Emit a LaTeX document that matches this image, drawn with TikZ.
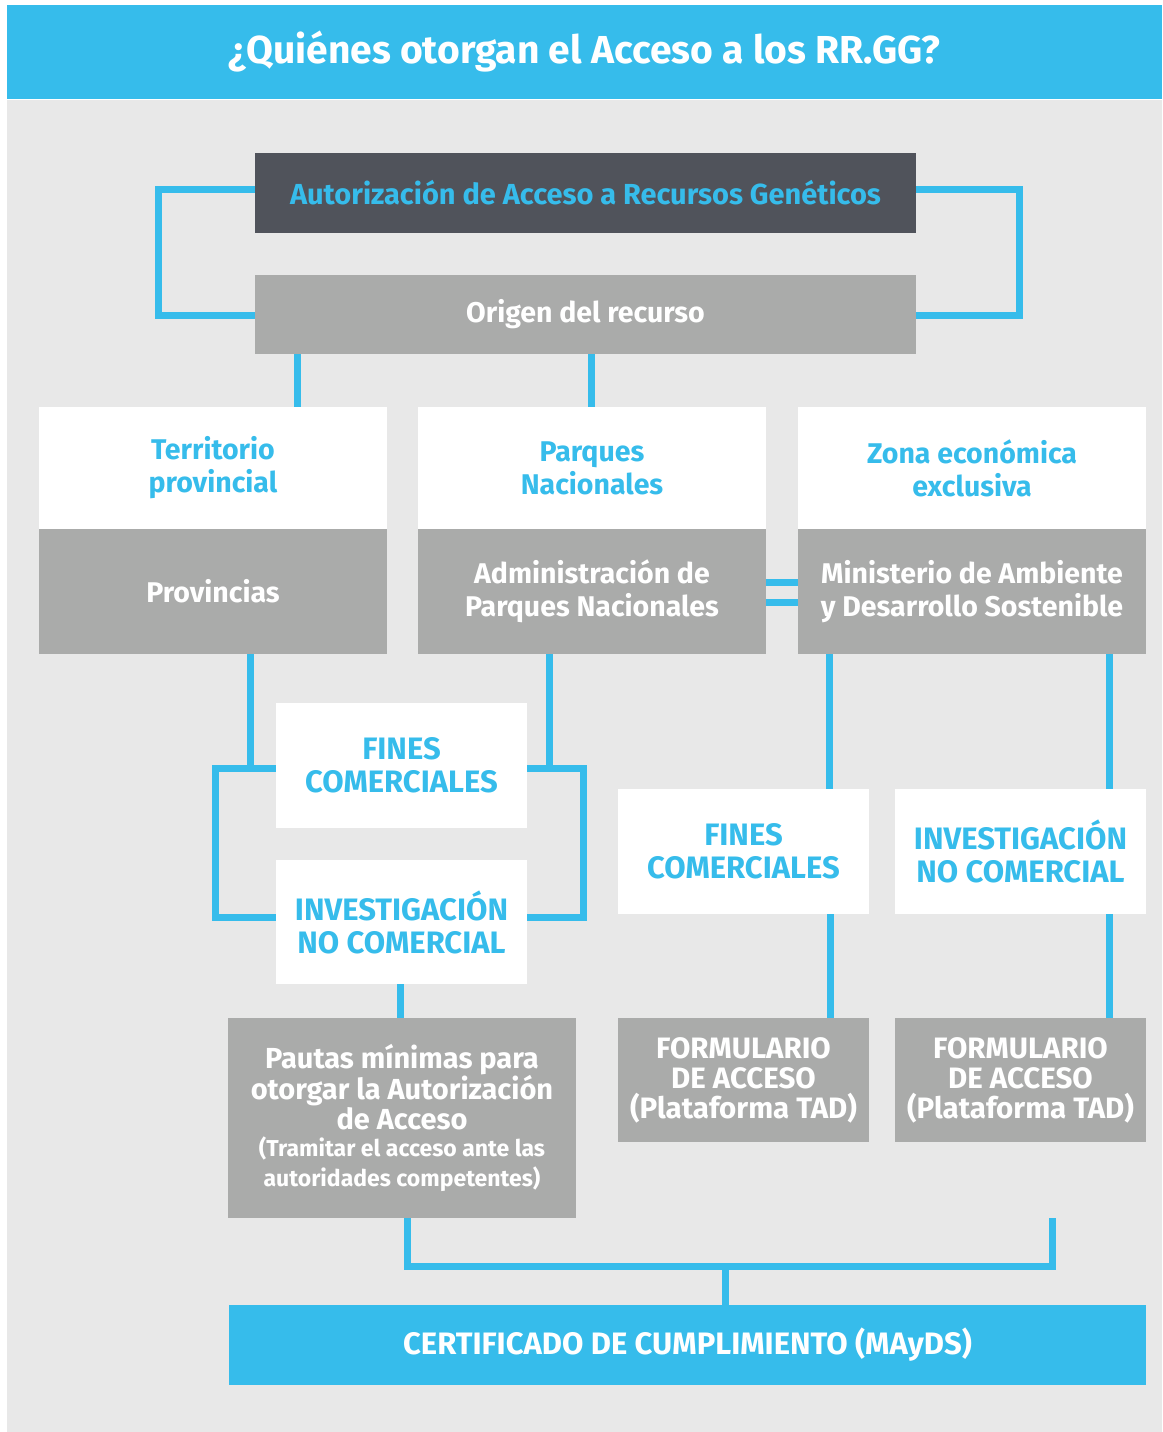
\documentclass[tikz,border=0pt]{standalone}
\usepackage{fontspec}
\setmainfont{Fira Sans}
\definecolor{cblue}{HTML}{36BCEB}
\definecolor{cdark}{HTML}{50535B}
\definecolor{cgray}{HTML}{AAABAA}
\definecolor{cbg}{HTML}{E8E8E8}
\begin{document}
\begin{tikzpicture}[x=1pt,y=-1pt,
  box/.style={rectangle, inner sep=0pt, align=center, font=\bfseries\fontsize{28.5}{33}\selectfont},
  capsfont/.style={font=\bfseries\fontsize{31}{33}\selectfont},
  wbox/.style={box, fill=white, text=cblue},
  gbox/.style={box, fill=cgray, text=white},
  conn/.style={draw=cblue, line width=7pt}]
\useasboundingbox (0,0) rectangle (1162,1432);
\fill[white] (0,0) rectangle (1162,1432);
\fill[cbg] (7,100) rectangle (1162,1432);
\node[box, fill=cblue, text=white, minimum width=1155, minimum height=94, font=\bfseries\fontsize{39}{44}\selectfont] (head) at (584.5,52) {¿Quiénes otorgan el Acceso a los RR.GG?};

\coordinate (la) at (158.5,189.5);
\coordinate (lo) at (158.5,315.5);
\coordinate (ra) at (1019.5,189.5);
\coordinate (ro) at (1019.5,315.5);

\node[box, fill=cdark, text=cblue, minimum width=661, minimum height=80, font=\bfseries\fontsize{29}{33}\selectfont] (aut) at (585.5,193) {Autorización de Acceso a Recursos Genéticos};
\node[gbox, minimum width=661, minimum height=79] (orig) at (585.5,314.5) {Origen del recurso};

\node[wbox, minimum width=348, minimum height=122] (terr) at (213,468) {Territorio\\provincial};
\node[gbox, minimum width=348, minimum height=125] (prov) at (213,591.5) {Provincias};
\node[wbox, minimum width=348, minimum height=122] (parq) at (592,468) {Parques\\Nacionales};
\node[gbox, minimum width=348, minimum height=125] (adm) at (592,591.5) {Administración de\\Parques Nacionales};
\node[wbox, minimum width=348, minimum height=122] (zona) at (972,468) {Zona económica\\exclusiva};
\node[gbox, minimum width=348, minimum height=125] (mini) at (972,591.5) {Ministerio de Ambiente\\y Desarrollo Sostenible};

\node[wbox, capsfont, minimum width=251, minimum height=125] (finL) at (401.5,765.5) {FINES\\COMERCIALES};
\node[wbox, capsfont, minimum width=251, minimum height=124] (invL) at (401.5,922) {INVESTIGACIÓN\\NO COMERCIAL};
\node[gbox, minimum width=348, minimum height=200, font=\bfseries\fontsize{29}{30}\selectfont] (paut) at (402,1118) {Pautas mínimas para\\otorgar la Autorización\\de Acceso\\[-3pt]\fontsize{23}{25}\selectfont (Tramitar el acceso ante las\\\fontsize{23}{25}\selectfont autoridades competentes)};

\node[wbox, capsfont, minimum width=251, minimum height=125] (finM) at (743.5,851.5) {FINES\\COMERCIALES};
\node[wbox, capsfont, minimum width=251, minimum height=125] (invR) at (1020.5,851.5) {INVESTIGACIÓN\\NO COMERCIAL};
\node[gbox, minimum width=251, minimum height=124, font=\bfseries\fontsize{29.5}{30}\selectfont] (form1) at (743.5,1080) {FORMULARIO\\DE ACCESO\\(Plataforma TAD)};
\node[gbox, minimum width=251, minimum height=124, font=\bfseries\fontsize{29.5}{30}\selectfont] (form2) at (1020.5,1080) {FORMULARIO\\DE ACCESO\\(Plataforma TAD)};

\node[box, capsfont, fill=cblue, text=white, minimum width=917, minimum height=80] (cert) at (687.5,1345) {CERTIFICADO DE CUMPLIMIENTO (MAyDS)};

% connectors
\draw[conn] (aut.west |- la) -- (la) -- (lo) -- (orig.west |- lo);
\draw[conn] (aut.east |- ra) -- (ra) -- (ro) -- (orig.east |- ro);
\draw[conn] ([xshift=84]terr.north) -- ([xshift=84]terr.north |- orig.south);
\draw[conn] ([xshift=-0.5]parq.north) -- ([xshift=-0.5]parq.north |- orig.south);
\draw[conn] (adm.east |- 0,582) -- (mini.west |- 0,582);
\draw[conn] (adm.east |- 0,602) -- (mini.west |- 0,602);

\coordinate (bl) at (215.5,768);
\coordinate (bl2) at (215.5,917);
\coordinate (br) at (583.5,768);
\coordinate (br2) at (583.5,917);
\draw[conn] ([xshift=37]prov.south) -- ([xshift=37]prov.south |- bl);
\draw[conn] (finL.west |- bl) -- (bl) -- (bl2) -- (invL.west |- bl2);
\draw[conn] ([xshift=-43]adm.south) -- ([xshift=-43]adm.south |- br);
\draw[conn] (finL.east |- br) -- (br) -- (br2) -- (invL.east |- br2);
\draw[conn] ([xshift=-1.5]invL.south) -- ([xshift=-1.5]invL.south |- paut.north);

\draw[conn] ([xshift=-143]mini.south) -- ([xshift=-143]mini.south |- finM.north);
\draw[conn] ([xshift=86.5]finM.south) -- ([xshift=86.5]finM.south |- form1.north);
\draw[conn] ([xshift=137]mini.south) -- ([xshift=137]mini.south |- invR.north);
\draw[conn] ([xshift=88.5]invR.south) -- ([xshift=88.5]invR.south |- form2.north);

\coordinate (cb1) at (407.5,1266.5);
\coordinate (cb2) at (1052.5,1266.5);
\coordinate (cbe) at (1052.5,1218);
\draw[conn] (paut.south -| cb1) -- (cb1) -- (cb2) -- (cbe);
\draw[conn] (cert.north -| 725,0) -- (725,1266.5);
\end{tikzpicture}
\end{document}
